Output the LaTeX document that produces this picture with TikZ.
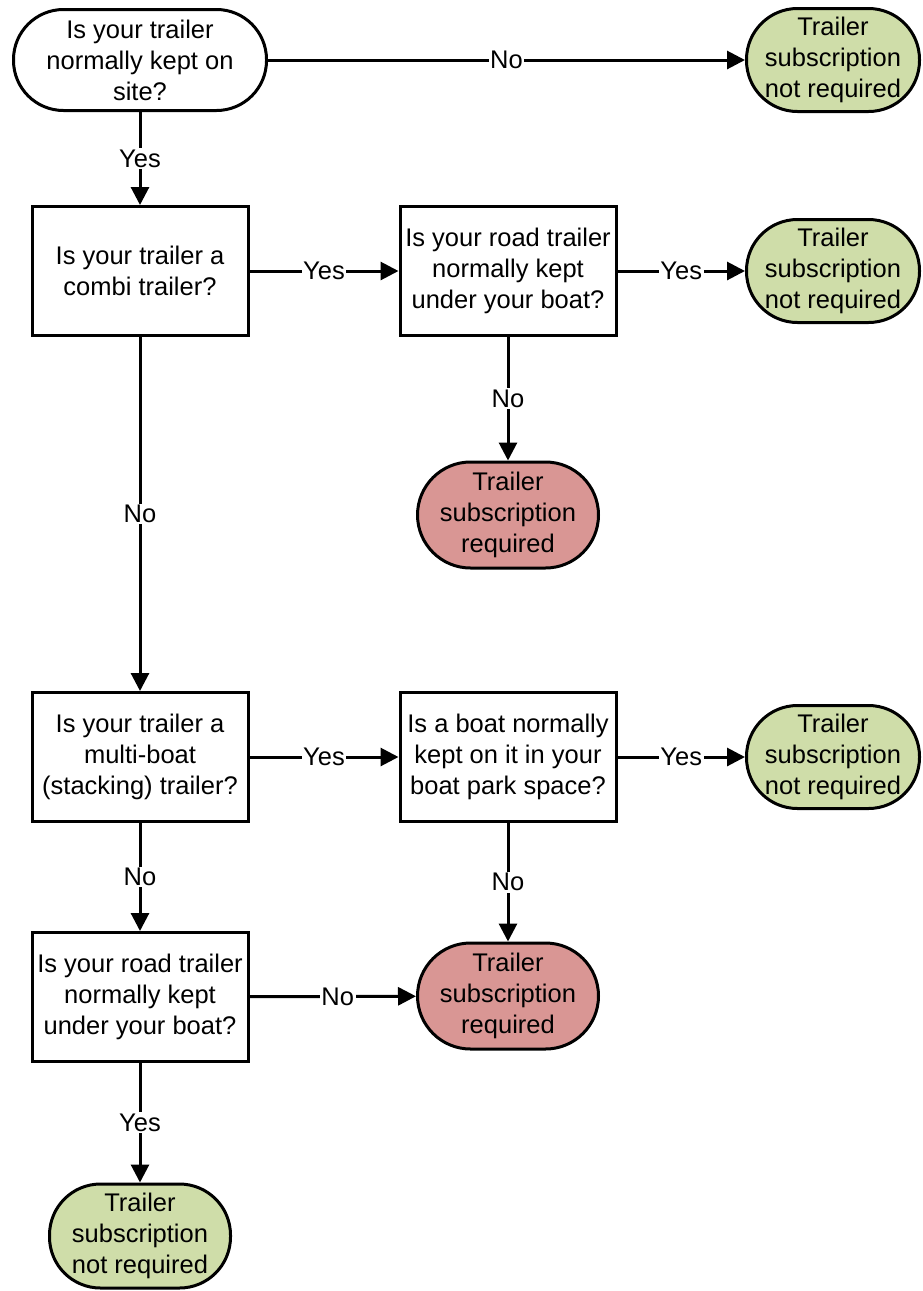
\documentclass[tikz,border=0pt]{standalone}
\usepackage{fontspec}
\setmainfont{Liberation Sans}
\usetikzlibrary{arrows.meta}
\definecolor{gfill}{HTML}{CFDDA9}
\definecolor{rfill}{HTML}{D99694}
\begin{document}
\begin{tikzpicture}[x=1pt,y=-1pt,
  every node/.style={font=\fontsize{25.5}{31}\selectfont},
  qbox/.style={draw, line width=3pt, fill=white, align=center, minimum width=216pt, minimum height=129pt, inner sep=0pt},
  term/.style={draw, line width=3pt, align=center, inner sep=0pt},
  greenterm/.style={term, fill=gfill, minimum width=173pt, minimum height=103pt, rounded corners=51pt},
  redterm/.style={term, fill=rfill, minimum width=181pt, minimum height=106pt, rounded corners=53pt},
  arr/.style={line width=3pt, -{Triangle[length=18pt,width=18pt]}},
  lbl/.style={fill=white, inner sep=1.5pt}]
\useasboundingbox (0,0) rectangle (923,1291);
\node[term, fill=white, minimum width=253pt, minimum height=101pt, rounded corners=50pt] (q1) at (140,60) {Is your trailer\\normally kept on\\site?};
\node[greenterm] (g1) at (833,60) {Trailer\\subscription\\not required};
\node[qbox] (q2) at (140,271) {Is your trailer a\\combi trailer?};
\node[qbox] (q3) at (508,271) {Is your road trailer\\normally kept\\under your boat?};
\node[greenterm] (g2) at (833,271) {Trailer\\subscription\\not required};
\node[redterm] (r1) at (508,515) {Trailer\\subscription\\required};
\node[qbox] (q4) at (140,757) {Is your trailer a\\multi-boat\\(stacking) trailer?};
\node[qbox] (q5) at (508,757) {Is a boat normally\\kept on it in your\\boat park space?};
\node[greenterm] (g3) at (833,757) {Trailer\\subscription\\not required};
\node[qbox] (q6) at (140,997) {Is your road trailer\\normally kept\\under your boat?};
\node[redterm] (r2) at (508,996) {Trailer\\subscription\\required};
\node[greenterm, minimum width=181pt, minimum height=104pt] (g4) at (140,1236) {Trailer\\subscription\\not required};
\draw[arr] (q1) -- node[lbl]{No} (g1);
\draw[arr] (q1) -- node[lbl]{Yes} (q2);
\draw[arr] (q2) -- node[lbl]{Yes} (q3);
\draw[arr] (q3) -- node[lbl]{Yes} (g2);
\draw[arr] (q3) -- node[lbl]{No} (r1);
\draw[arr] (q2) -- node[lbl]{No} (q4);
\draw[arr] (q4) -- node[lbl]{Yes} (q5);
\draw[arr] (q5) -- node[lbl]{Yes} (g3);
\draw[arr] (q5) -- node[lbl]{No} (r2);
\draw[arr] (q4) -- node[lbl]{No} (q6);
\draw[arr] (q6) -- node[lbl, pos=0.53]{No} (r2);
\draw[arr] (q6) -- node[lbl]{Yes} (g4);
\end{tikzpicture}
\end{document}
